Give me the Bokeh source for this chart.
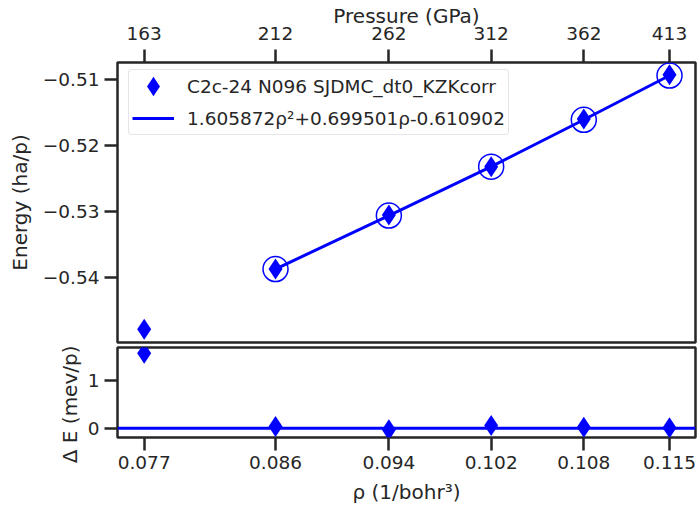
from bokeh.plotting import figure
from bokeh.models import (Range1d, FixedTicker, CustomJSTickFormatter, Span,
                          Legend, LegendItem, ColumnDataSource, Title)
from bokeh.layouts import column
from bokeh.embed import file_html
from bokeh.resources import INLINE

# ---------------- data ----------------
rho_pos = [0.0770, 0.0865, 0.0947, 0.1021, 0.1088, 0.1150]
rho_labels = ["0.077", "0.086", "0.094", "0.102", "0.108", "0.115"]
pressure_labels = ["163", "212", "262", "312", "362", "413"]
energy = [-0.5478, -0.5387, -0.5305, -0.5232, -0.5160, -0.5093]
fit_rho = [0.0865, 0.0947, 0.1021, 0.1088, 0.1150]
fit_energy = [-0.5387, -0.5306, -0.5232, -0.5161, -0.5094]
delta_e = [1.57, 0.035, -0.035, 0.057, 0.02, 0.01]
y_ticks_top = [-0.54, -0.53, -0.52, -0.51]
y_ticks_bottom = [0, 1]
series_label = "C2c-24 N096 SJDMC_dt0_KZKcorr"
fit_label = "1.605872\u03c1\u00b2+0.699501\u03c1-0.610902"
delta_label = "\u0394 E (mev/p)"

BLUE = "#0000ff"
INK = "#262626"
FONT = "DejaVu Sans"
TICK_FS = "18.5px"
LABEL_FS = "20px"

src = ColumnDataSource(dict(x=rho_pos, e=energy, d=delta_e))
fit_src = ColumnDataSource(dict(x=fit_rho, e=fit_energy))

x_range = Range1d(0.07507, 0.11688)

nearest_code = """
let b = 0;
for (let i = 0; i < pos.length; i++) {
  if (Math.abs(pos[i] - tick) < Math.abs(pos[b] - tick)) b = i;
}
return labels[b];
"""
rho_fmt = CustomJSTickFormatter(args=dict(pos=rho_pos, labels=rho_labels), code=nearest_code)
pres_fmt = CustomJSTickFormatter(args=dict(pos=rho_pos, labels=pressure_labels), code=nearest_code)
minus_fmt = CustomJSTickFormatter(code="""
return (tick < 0 ? '\\u2212' : '') + Math.abs(tick).toFixed(2);
""")


def style_axis(ax):
    ax.axis_line_color = None
    ax.major_tick_line_color = INK
    ax.major_tick_line_width = 2.5
    ax.major_tick_out = 13
    ax.major_tick_in = 0
    ax.minor_tick_line_color = None
    ax.major_label_text_font = FONT
    ax.major_label_text_font_size = TICK_FS
    ax.major_label_text_color = INK
    ax.major_label_standoff = 5
    ax.axis_label_text_font = FONT
    ax.axis_label_text_font_size = LABEL_FS
    ax.axis_label_text_font_style = "normal"
    ax.axis_label_text_color = INK
    ax.axis_label_standoff = 8


# ---------------- top panel ----------------
p1 = figure(frame_width=578, frame_height=280, x_range=x_range,
            y_range=Range1d(-0.54982, -0.507431),
            x_axis_location="above", output_backend="svg", toolbar_location=None,
            min_border_left=117, min_border_right=3, min_border_top=62,
            min_border_bottom=2)
p1.xgrid.visible = False
p1.ygrid.visible = False
p1.outline_line_color = INK
p1.outline_line_width = 2.5

xa = p1.xaxis[0]
xa.ticker = FixedTicker(ticks=rho_pos)
xa.formatter = pres_fmt
xa.axis_label = "Pressure (GPa)"
style_axis(xa)
xa.major_label_standoff = 10
xa.axis_label_standoff = -4

ya = p1.yaxis[0]
ya.ticker = FixedTicker(ticks=y_ticks_top)
ya.formatter = minus_fmt
ya.axis_label = "Energy (ha/p)"
style_axis(ya)

fit_line = p1.line("x", "e", source=fit_src, line_color=BLUE, line_width=3)
p1.scatter("x", "e", source=fit_src, marker="circle", size=25,
           fill_color=None, line_color=BLUE, line_width=1.5)
p1.scatter("x", "e", source=src, marker="diamond", size=21,
           fill_color=BLUE, line_color=None)
legend_marker = p1.scatter("x", "e", source=src, marker="diamond", size=21,
                           fill_color=BLUE, line_color=BLUE, line_width=5,
                           line_join="miter", visible=False)

legend = Legend(items=[LegendItem(label=series_label, renderers=[legend_marker]),
                       LegendItem(label=fit_label, renderers=[fit_line])],
                location=(11, 207), padding=3, spacing=6,
                glyph_width=42, glyph_height=26, label_standoff=13,
                label_text_font=FONT, label_text_font_size=TICK_FS,
                label_text_color=INK, border_line_color="#cccccc",
                border_line_width=1.5, border_radius=4,
                background_fill_color="white", background_fill_alpha=0.8,
                click_policy="none")
p1.add_layout(legend)

# ---------------- bottom panel ----------------
p2 = figure(frame_width=578, frame_height=90, x_range=x_range,
            y_range=Range1d(-0.195, 1.692),
            output_backend="svg", toolbar_location=None,
            min_border_left=117, min_border_right=3, min_border_top=3,
            min_border_bottom=73)
p2.xgrid.visible = False
p2.ygrid.visible = False
p2.outline_line_color = INK
p2.outline_line_width = 2.5

xb = p2.xaxis[0]
xb.ticker = FixedTicker(ticks=rho_pos)
xb.formatter = rho_fmt
xb.axis_label = "\u03c1 (1/bohr\u00b3)"
style_axis(xb)

yb = p2.yaxis[0]
yb.ticker = FixedTicker(ticks=y_ticks_bottom)
style_axis(yb)

# y title of this short panel: anchored at the panel top so it stays visible
p2.add_layout(Title(text=delta_label, align="right", offset=-2, standoff=6,
                    text_font=FONT, text_font_size=LABEL_FS,
                    text_font_style="normal", text_color=INK), "left")

p2.add_layout(Span(location=0, dimension="width", line_color=BLUE, line_width=3))
p2.scatter("x", "d", source=src, marker="diamond", size=21,
           fill_color=BLUE, line_color=None)

layout = column(p1, p2, spacing=0)
open("out.html", "w").write(file_html(layout, INLINE))
